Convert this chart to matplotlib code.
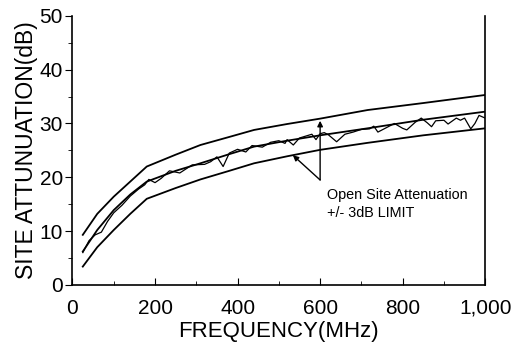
import numpy as np
import matplotlib
matplotlib.use("Agg")
import matplotlib.pyplot as plt

plt.rcParams['font.family'] = ['Liberation Sans', 'DejaVu Sans']

# limit lines (MHz, dB)
lim_f = [25, 60, 100, 140, 180, 250, 310, 380, 440, 520, 600, 715, 850, 1000]
upper = [9.3, 13.2, 16.4, 19.2, 22.0, 24.2, 26.0, 27.5, 28.8, 29.9, 30.9, 32.5, 33.8, 35.3]
refer = [6.2, 10.2, 13.9, 16.8, 19.2, 21.2, 22.6, 24.3, 25.7, 26.8, 27.8, 29.1, 30.7, 32.2]
lower = [3.4, 7.0, 10.2, 13.2, 16.0, 18.0, 19.6, 21.2, 22.6, 23.9, 25.1, 26.4, 27.8, 29.1]

# measured site attenuation
meas_f = [25, 40, 55, 70, 85, 100, 120, 140, 160, 175, 185, 200, 215, 235, 260,
          290, 320, 335, 350, 365, 380, 400, 420, 435, 460, 480, 500, 515, 520,
          535, 550, 580, 590, 600, 610, 620, 640, 660, 680, 700, 720, 730, 740,
          760, 780, 800, 810, 830, 845, 860, 870, 880, 900, 910, 930, 940, 950,
          965, 975, 985, 1000]
meas = [6.0, 8.2, 9.3, 9.8, 11.8, 13.4, 14.8, 16.5, 17.8, 18.6, 19.6, 19.0, 19.8,
        21.2, 20.8, 22.3, 22.4, 22.9, 23.8, 22.0, 24.5, 25.2, 24.7, 25.9, 25.6,
        26.5, 26.8, 26.3, 27.0, 26.0, 27.3, 28.0, 27.0, 28.1, 28.3, 27.9, 26.6,
        28.0, 28.4, 28.9, 29.0, 29.5, 28.4, 29.2, 30.0, 29.1, 28.8, 30.2, 31.0,
        30.1, 29.4, 30.5, 30.6, 29.9, 31.0, 30.6, 31.0, 29.0, 30.0, 31.5, 31.0]

fig = plt.figure(figsize=(5.14, 3.53), dpi=100)
ax = fig.add_axes([0.141, 0.193, 0.803, 0.762])

ax.plot(lim_f, upper, color='black', lw=1.3)
ax.plot(lim_f, refer, color='black', lw=1.3)
ax.plot(lim_f, lower, color='black', lw=1.3)
ax.plot(meas_f, meas, color='black', lw=0.9)

# arrows pointing at the limits
ax.annotate('', xy=(600, 30.5), xytext=(600, 19.5),
            arrowprops=dict(arrowstyle='-|>', color='black', lw=1.0,
                            mutation_scale=8, shrinkA=0, shrinkB=0))
ax.annotate('', xy=(534, 24.1), xytext=(600, 19.5),
            arrowprops=dict(arrowstyle='-|>', color='black', lw=1.0,
                            mutation_scale=8, shrinkA=0, shrinkB=0))
ax.text(617, 16.7, 'Open Site Attenuation', fontsize=10.4, va='center', ha='left')
ax.text(617, 13.3, '+/- 3dB LIMIT', fontsize=10.4, va='center', ha='left')

ax.set_xlim(0, 1000)
ax.set_ylim(0, 50)
ax.set_xticks([0, 200, 400, 600, 800, 1000])
ax.set_xticklabels(['0', '200', '400', '600', '800', '1,000'])
ax.set_xticks(range(100, 1000, 200), minor=True)
ax.set_yticks([0, 10, 20, 30, 40, 50])
ax.set_yticks([5, 15, 25, 35, 45], minor=True)
ax.tick_params(axis='x', direction='in', length=5, labelsize=15, pad=10)
ax.tick_params(axis='x', which='minor', direction='in', length=3)
ax.tick_params(axis='y', direction='out', length=5, labelsize=15, pad=2)
ax.tick_params(axis='y', which='minor', direction='out', length=3)
ax.spines['top'].set_visible(False)
for s in ['left', 'bottom', 'right']:
    ax.spines[s].set_linewidth(1.2)

ax.set_xlabel('FREQUENCY(MHz)', fontsize=16, labelpad=2)
ax.set_ylabel('SITE ATTUNUATION(dB)', fontsize=16.5, labelpad=1)

plt.savefig("out.png", dpi=100)
plt.close()
